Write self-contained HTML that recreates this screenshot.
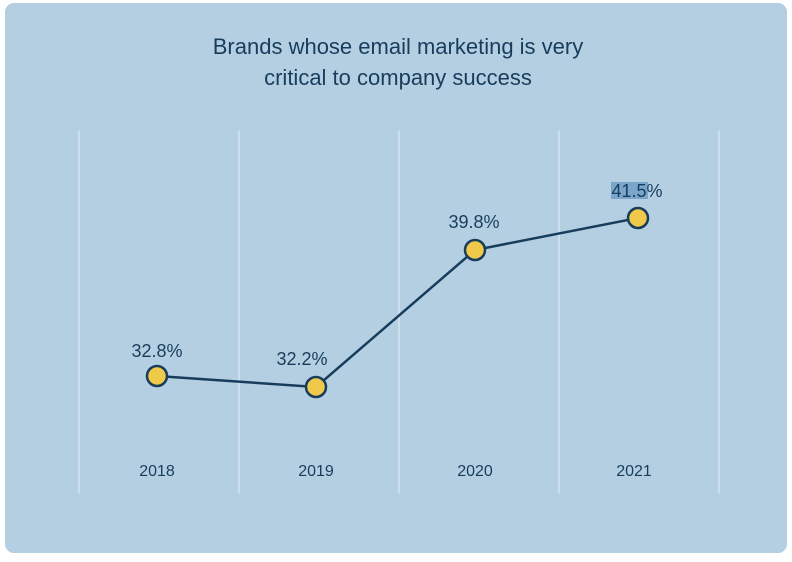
<!DOCTYPE html>
<html><head><style>
body{margin:0;background:#fff;width:792px;height:557px;overflow:hidden}
</style></head><body>
<svg width="792" height="557" xmlns="http://www.w3.org/2000/svg" font-family="Liberation Sans, sans-serif">
<rect x="5" y="3" width="782" height="550" rx="9" fill="#b5cfe2"/>
<g stroke="#dde9f2" stroke-width="1.2">
<line x1="79" y1="131" x2="79" y2="493"/><line x1="239" y1="131" x2="239" y2="493"/>
<line x1="399" y1="131" x2="399" y2="493"/><line x1="559" y1="131" x2="559" y2="493"/>
<line x1="719" y1="131" x2="719" y2="493"/>
</g>
<g fill="#173d5c" text-anchor="middle">
<text x="398" y="54" font-size="22">Brands whose email marketing is very</text>
<text x="398" y="85" font-size="22">critical to company success</text>
<g font-size="16"><text x="157" y="476">2018</text><text x="316" y="476">2019</text><text x="475" y="476">2020</text><text x="634" y="476">2021</text></g>
<rect x="611" y="182" width="37" height="17" fill="#7ba6cb"/>
<g font-size="18"><text x="157" y="357">32.8%</text><text x="302" y="365">32.2%</text><text x="474" y="228">39.8%</text><text x="637" y="197">41.5%</text></g>
</g>
<polyline points="157,376 316,387 475,250 638,218" fill="none" stroke="#173d5c" stroke-width="2.5"/>
<g fill="#f0c94a" stroke="#173d5c" stroke-width="2.5">
<circle cx="157" cy="376" r="10"/><circle cx="316" cy="387" r="10"/><circle cx="475" cy="250" r="10"/><circle cx="638" cy="218" r="10"/>
</g>
</svg>
</body></html>
